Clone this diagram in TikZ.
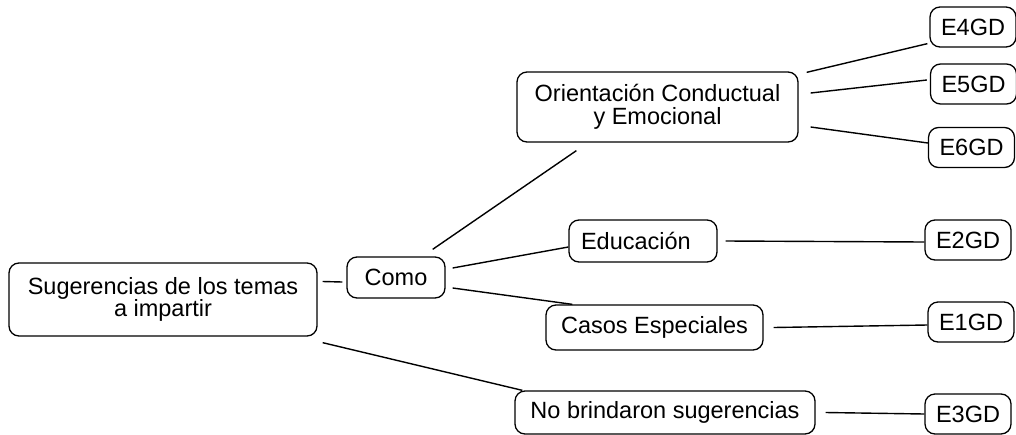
\documentclass[tikz,border=0pt]{standalone}
\usepackage{fontspec}
\setmainfont{Liberation Sans}

\begin{document}
\begin{tikzpicture}[x=1pt, y=-1pt,
    caja/.style = {draw, rounded corners=10pt, line width=1.3pt,
        align=center, inner sep=0pt,
        font=\fontsize{23.5}{22.5}\selectfont},
    clave/.style = {caja, minimum width=86, minimum height=40},
    linea/.style = {line width=1.4pt}]

% marco
\useasboundingbox (0,0) rectangle (1016,434);

% Nodos principales
\node[caja, minimum width=308, minimum height=73] (sugerencias) at (163,299.5)
    {Sugerencias de los temas\\a impartir};
\node[caja, minimum width=98, minimum height=41] (como) at (396,277.5) {Como};
\node[caja, minimum width=281, minimum height=70] (orientacion) at (657.5,107)
    {Orientación Conductual\\y Emocional};
\node[caja, minimum width=148, minimum height=42, text width=124, align=left]
    (educacion) at (643,241) {Educación};
\node[caja, minimum width=217, minimum height=45] (casos) at (654.5,327.5) {Casos Especiales};
\node[caja, minimum width=300, minimum height=43] (nobrindaron) at (665,412.5)
    {No brindaron sugerencias};

% Claves
\node[clave] (e4) at (973,27) {E4GD};
\node[clave] (e5) at (973.5,84) {E5GD};
\node[clave] (e6) at (971.5,147.5) {E6GD};
\node[clave] (e2) at (968,240) {E2GD};
\node[clave] (e1) at (971,322) {E1GD};
\node[clave] (e3) at (968,414) {E3GD};

% Conectores
\draw[linea] ([xshift=5pt,yshift=18pt]sugerencias.east) -- ([xshift=-4pt,yshift=-4.5pt]como.west);
\draw[linea] ([xshift=5pt,yshift=-6pt]sugerencias.south east) -- ([xshift=8pt]nobrindaron.north west);
\draw[linea] ([xshift=-13pt,yshift=7pt]como.north east) -- ([xshift=60pt,yshift=-8pt]orientacion.south west);
\draw[linea] ([xshift=7pt,yshift=9.5pt]como.east) -- ([yshift=-6pt]educacion.west);
\draw[linea] ([xshift=7pt,yshift=-10.5pt]como.east) -- ([xshift=27pt]casos.north west);

\draw[linea] ([xshift=8pt,yshift=-1pt]orientacion.north east) -- ([xshift=-2pt,yshift=4pt]e4.south west);
\draw[linea] ([xshift=12pt,yshift=14pt]orientacion.east) -- ([xshift=-3pt,yshift=4pt]e5.west);
\draw[linea] ([xshift=12pt,yshift=-20pt]orientacion.east) -- ([yshift=4.5pt]e6.west);

\draw[linea] ([xshift=8pt]educacion.east) -- ([yshift=-2pt]e2.west);
\draw[linea] ([xshift=10pt]casos.east) -- ([yshift=-3pt]e1.west);
\draw[linea] ([xshift=10pt]nobrindaron.east) -- (e3.west);

\end{tikzpicture}
\end{document}
